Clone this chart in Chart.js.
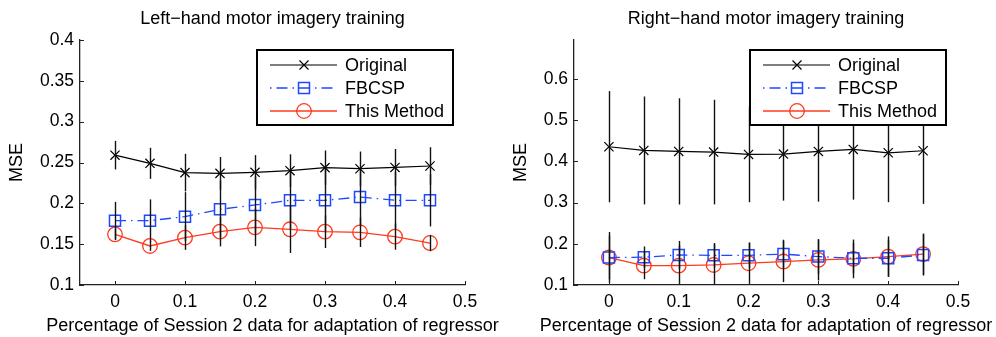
<!DOCTYPE html>
<html>
<head>
<meta charset="utf-8">
<script src="https://cdn.jsdelivr.net/npm/chart.js@4.4.0/dist/chart.umd.min.js"></script>
<style>
  html, body { margin: 0; padding: 0; background: #fff; overflow: hidden; }
  #wrap { position: relative; width: 996px; height: 337px; }
  canvas { position: absolute; top: 0; }
  #left { left: 0; }
  #right { left: 498px; }
</style>
</head>
<body>
<div id="wrap">
  <canvas id="left" width="545" height="337"></canvas>
  <canvas id="right" width="536" height="337"></canvas>
</div>
<script>
// fraction of session 2 data used for adaptation
const xValues = [0, 0.05, 0.1, 0.15, 0.2, 0.25, 0.3, 0.35, 0.4, 0.45];
const xTicks = [0, 0.1, 0.2, 0.3, 0.4, 0.5];
const leftYTicks = [0.1, 0.15, 0.2, 0.25, 0.3, 0.35, 0.4];
const rightYTicks = [0.1, 0.2, 0.3, 0.4, 0.5, 0.6];
const seriesNames = ['Original', 'FBCSP', 'This Method'];

// left-hand training
const leftOriginal = [0.259, 0.249, 0.2376, 0.2367, 0.238, 0.240, 0.2437, 0.2424, 0.244, 0.2457];
const leftOriginalErr = [0.0175, 0.019, 0.023, 0.020, 0.021, 0.020, 0.021, 0.021, 0.0225, 0.023];
const leftFbcsp = [0.1788, 0.1788, 0.1837, 0.1927, 0.198, 0.2037, 0.2037, 0.2078, 0.2037, 0.2037];
const leftFbcspErr = [0.023, 0.026, 0.030, 0.035, 0.035, 0.035, 0.038, 0.036, 0.035, 0.032];
const leftMethod = [0.162, 0.1478, 0.158, 0.1653, 0.1706, 0.1682, 0.1653, 0.1645, 0.1592, 0.1514];
const leftMethodErr = [0.007, 0.006, 0.015, 0.018, 0.023, 0.029, 0.020, 0.018, 0.016, 0.010];

// right-hand training
const rightOriginal = [0.4358, 0.4268, 0.4244, 0.4228, 0.4171, 0.4179, 0.4244, 0.4293, 0.4211, 0.426];
const rightOriginalErr = [0.135, 0.131, 0.129, 0.127, 0.116, 0.113, 0.122, 0.122, 0.120, 0.129];
const rightFbcsp = [0.1667, 0.1675, 0.173, 0.172, 0.172, 0.175, 0.169, 0.165, 0.165, 0.173];
const rightFbcspErr = [0.053, 0.026, 0.034, 0.030, 0.031, 0.035, 0.042, 0.037, 0.045, 0.050];
const rightMethod = [0.1667, 0.147, 0.147, 0.1487, 0.153, 0.157, 0.161, 0.1634, 0.169, 0.175];
const rightMethodErr = [0.062, 0.033, 0.050, 0.050, 0.050, 0.050, 0.050, 0.047, 0.049, 0.050];

const FONT = 'Liberation Sans, Arial, Helvetica, sans-serif';
const BLACK = '#000000';
const BLUE = '#1f48ff';
const RED = '#ff3a1e';
const X_LABEL = 'Percentage of Session 2 data for adaptation of regressor';

const toPoints = (ys) => ys.map((y, i) => ({ x: xValues[i], y: y }));

// vertical error bars, drawn from each dataset's "errors" array
const errorBars = {
    id: 'errorBars',
    afterDatasetsDraw(chart) {
        const { ctx, chartArea, scales } = chart;
        ctx.save();
        ctx.beginPath();
        ctx.rect(chartArea.left, chartArea.top, chartArea.width, chartArea.height);
        ctx.clip();
        ctx.strokeStyle = '#111';
        ctx.lineWidth = 1.4;
        chart.data.datasets.forEach(ds => {
            ds.data.forEach((p, i) => {
                const e = ds.errors[i];
                const px = Math.round(scales.x.getPixelForValue(p.x)) + 0.5;
                ctx.beginPath();
                ctx.moveTo(px, scales.y.getPixelForValue(p.y + e));
                ctx.lineTo(px, scales.y.getPixelForValue(p.y - e));
                ctx.stroke();
            });
        });
        ctx.restore();
    }
};

const drawMarker = (ctx, style, x, y, color) => {
    ctx.strokeStyle = color;
    ctx.beginPath();
    if (style === 'crossRot') {
        ctx.lineWidth = 1.2;
        ctx.moveTo(x - 4.5, y - 4.5); ctx.lineTo(x + 4.5, y + 4.5);
        ctx.moveTo(x + 4.5, y - 4.5); ctx.lineTo(x - 4.5, y + 4.5);
    } else if (style === 'rect') {
        ctx.lineWidth = 1.5;
        ctx.rect(x - 5.5, y - 5.5, 11, 11);
    } else {
        ctx.lineWidth = 1.3;
        ctx.arc(x, y, 7.3, 0, Math.PI * 2);
    }
    ctx.stroke();
};

// title, inward tick marks, x-axis label and the boxed legend
const decorations = {
    id: 'decorations',
    afterDraw(chart) {
        const { ctx, chartArea, scales } = chart;
        const midX = (chartArea.left + chartArea.right) / 2;
        ctx.save();
        ctx.strokeStyle = '#222';
        ctx.lineWidth = 1;
        scales.y.ticks.forEach(t => {
            const py = Math.round(scales.y.getPixelForValue(t.value)) + 0.5;
            ctx.beginPath();
            ctx.moveTo(chartArea.left, py);
            ctx.lineTo(chartArea.left + 4, py);
            ctx.stroke();
        });
        scales.x.ticks.forEach(t => {
            const px = Math.round(scales.x.getPixelForValue(t.value)) + 0.5;
            ctx.beginPath();
            ctx.moveTo(px, chartArea.bottom);
            ctx.lineTo(px, chartArea.bottom - 4);
            ctx.stroke();
        });

        ctx.fillStyle = BLACK;
        ctx.font = '18px ' + FONT;
        ctx.textAlign = 'center';
        ctx.textBaseline = 'middle';
        ctx.fillText(chart.options.chartTitle, midX, 19);
        ctx.fillText(X_LABEL, midX, 326);

        // legend
        const w = 196, h = 75;
        const bx = chartArea.right - 12 - w;
        const by = chartArea.top + 10;
        ctx.fillStyle = '#fff';
        ctx.fillRect(bx, by, w, h);
        ctx.strokeStyle = BLACK;
        ctx.lineWidth = 2;
        ctx.strokeRect(bx, by, w, h);
        ctx.textAlign = 'left';
        chart.data.datasets.forEach((ds, i) => {
            const ly = by + 15 + i * 23;
            ctx.strokeStyle = ds.borderColor;
            ctx.lineWidth = ds.borderWidth;
            ctx.setLineDash(ds.borderDash || []);
            ctx.lineDashOffset = 16;
            ctx.beginPath();
            ctx.moveTo(bx + 13, ly);
            ctx.lineTo(bx + 80, ly);
            ctx.stroke();
            ctx.setLineDash([]);
            drawMarker(ctx, ds.pointStyle, bx + 47, ly, ds.borderColor);
            ctx.fillStyle = BLACK;
            ctx.fillText(ds.label, bx + 88, ly + 1);
        });
        ctx.restore();
    }
};

const buildChart = (id, cfg) => {
    const ctx = document.getElementById(id).getContext('2d');
    return new Chart(ctx, {
        type: 'line',
        data: {
            datasets: [{
                label: seriesNames[0],
                data: toPoints(cfg.original),
                errors: cfg.originalErr,
                borderColor: BLACK,
                borderWidth: 1.2,
                pointStyle: 'crossRot',
                pointRadius: 6.5,
                pointBorderWidth: 1.2,
                pointBorderColor: BLACK,
                pointBackgroundColor: 'rgba(0,0,0,0)'
            }, {
                label: seriesNames[1],
                data: toPoints(cfg.fbcsp),
                errors: cfg.fbcspErr,
                borderColor: BLUE,
                borderWidth: 1.3,
                borderDash: [11, 5, 1.5, 5],
                pointStyle: 'rect',
                pointRadius: 7.8,
                pointBorderWidth: 1.5,
                pointBorderColor: BLUE,
                pointBackgroundColor: 'rgba(0,0,0,0)'
            }, {
                label: seriesNames[2],
                data: toPoints(cfg.method),
                errors: cfg.methodErr,
                borderColor: RED,
                borderWidth: 1.3,
                pointStyle: 'circle',
                pointRadius: 7.3,
                pointBorderWidth: 1.3,
                pointBorderColor: RED,
                pointBackgroundColor: 'rgba(0,0,0,0)'
            }]
        },
        options: {
            responsive: false,
            animation: false,
            events: [],
            chartTitle: cfg.title,
            layout: { padding: { left: 0, right: cfg.padRight, top: 40, bottom: 0 } },
            plugins: {
                legend: { display: false },
                tooltip: { enabled: false },
                title: { display: false }
            },
            scales: {
                x: {
                    type: 'linear',
                    min: -0.05,
                    max: 0.5,
                    afterBuildTicks: s => { s.ticks = xTicks.map(v => ({ value: v })); },
                    afterFit: s => { s.height = 52; },
                    grid: { display: false, drawTicks: false },
                    border: { display: true, color: '#222', width: 1.3 },
                    ticks: {
                        color: BLACK,
                        font: { family: FONT, size: 17.5 },
                        padding: 7,
                        maxRotation: 0,
                        autoSkip: false,
                        callback: v => String(+v.toFixed(2))
                    }
                },
                y: {
                    type: 'linear',
                    min: 0.1,
                    max: cfg.yMax,
                    afterBuildTicks: s => { s.ticks = cfg.yTicks.map(v => ({ value: v })); },
                    afterFit: s => { s.width = cfg.yWidth; },
                    grid: { display: false, drawTicks: false },
                    border: { display: true, color: '#222', width: 1.3 },
                    title: {
                        display: true,
                        text: 'MSE',
                        color: BLACK,
                        font: { family: FONT, size: 18 },
                        padding: { top: cfg.msePad, bottom: 0 }
                    },
                    ticks: {
                        color: BLACK,
                        font: { family: FONT, size: 17.5 },
                        padding: 6,
                        autoSkip: false,
                        callback: v => String(+v.toFixed(2))
                    }
                }
            }
        },
        plugins: [errorBars, decorations]
    });
};

buildChart('left', {
    title: 'Left\u2212hand motor imagery training',
    original: leftOriginal, originalErr: leftOriginalErr,
    fbcsp: leftFbcsp, fbcspErr: leftFbcspErr,
    method: leftMethod, methodErr: leftMethodErr,
    yMax: 0.4, yTicks: leftYTicks,
    yWidth: 80, padRight: 80, msePad: 6.2
});

buildChart('right', {
    title: 'Right\u2212hand motor imagery training',
    original: rightOriginal, originalErr: rightOriginalErr,
    fbcsp: rightFbcsp, fbcspErr: rightFbcspErr,
    method: rightMethod, methodErr: rightMethodErr,
    yMax: 0.695, yTicks: rightYTicks,
    yWidth: 76, padRight: 76, msePad: 12.2
});
</script>
</body>
</html>
